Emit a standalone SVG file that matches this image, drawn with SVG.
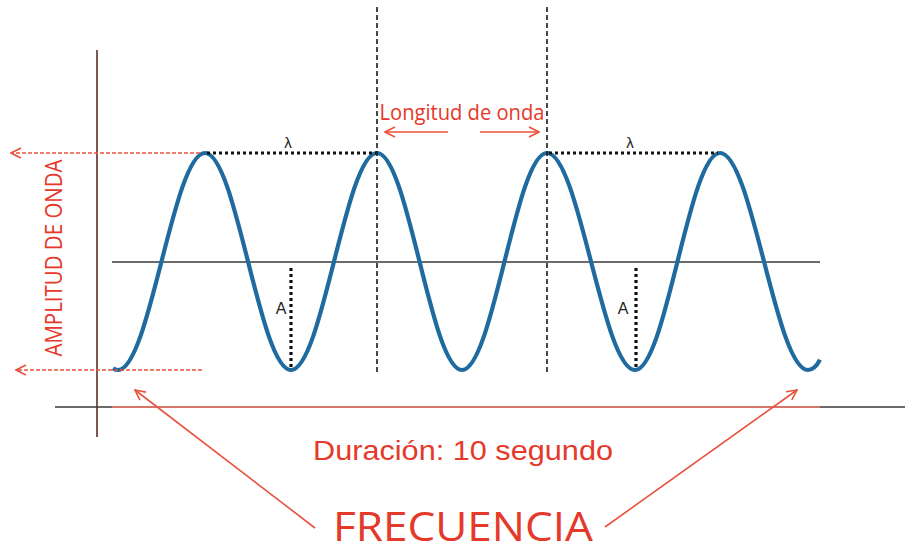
<svg xmlns="http://www.w3.org/2000/svg" width="905" height="552" viewBox="0 0 905 552">
<defs>
<style>
.red{fill:#e5392a;}
.redline{stroke:#e8523e;stroke-width:1.6;fill:none;}
.reddash{stroke:#e8523e;stroke-width:1.5;fill:none;stroke-dasharray:4,2;}
.dark{stroke:#3a3a3a;stroke-width:1.6;fill:none;}
.vdash{stroke:#1a1a1a;stroke-width:1.6;fill:none;stroke-dasharray:5,3;}
.dots{stroke:#111;stroke-width:3.2;fill:none;stroke-dasharray:3,3;}
.lbl{font-family:"Liberation Sans",Arial,sans-serif;fill:#222;}
</style>
<marker id="ah" viewBox="0 0 12 12" refX="11" refY="6" markerWidth="12" markerHeight="12" markerUnits="userSpaceOnUse" orient="auto">
<path d="M1,1 L11,6 L1,11" fill="none" stroke="#e8523e" stroke-width="1.6"/>
</marker>
</defs>
<rect width="905" height="552" fill="#ffffff"/>

<g id="axes">
<line x1="97" y1="50" x2="97" y2="437" stroke="#5b2f28" stroke-width="1.6"/>
<line class="dark" x1="55" y1="407" x2="112" y2="407"/>
<line x1="112" y1="407" x2="820" y2="407" stroke="#c9473a" stroke-width="1.4"/>
<line class="dark" x1="820" y1="407" x2="905" y2="407"/>
<line class="dark" x1="112" y1="262" x2="820" y2="262"/>
</g>

<g id="wave">
<path d="M113,368.2 Q115.5,370 118,370 C149.7,370 173.3,153 205,153 C236.3,153 259.7,370 291,370 C322.3,370 345.7,153 377,153 C408,153 431,370 462,370 C493,370 516,153 547,153 C579,153 603,370 635,370 C666,370 689,153 720,153 C752,153 776,370 808,370 Q814.6,370 820,359.8" fill="none" stroke="#1f6a9e" stroke-width="4.2"/>
</g>

<g id="guides">
<line class="vdash" x1="377" y1="7" x2="377" y2="372"/>
<line class="vdash" x1="547" y1="7" x2="547" y2="372"/>
<line class="dots" x1="207" y1="153" x2="376" y2="153"/>
<line class="dots" x1="549" y1="153" x2="718" y2="153"/>
<line class="dots" x1="291" y1="268" x2="291" y2="369"/>
<line class="dots" x1="636" y1="268" x2="636" y2="369"/>
<text class="lbl" x="288" y="148" font-size="15" text-anchor="middle">λ</text>
<text class="lbl" x="630" y="148" font-size="15" text-anchor="middle">λ</text>
<text class="lbl" x="281" y="314" font-size="16" text-anchor="middle">A</text>
<text class="lbl" x="623" y="314" font-size="16" text-anchor="middle">A</text>
</g>

<g id="amplitud">
<line class="reddash" x1="200" y1="153" x2="11" y2="153" marker-end="url(#ah)"/>
<line class="reddash" x1="202" y1="370" x2="16" y2="370" marker-end="url(#ah)"/>
<text class="red" transform="translate(62,258) rotate(-90)" font-family="'Open Sans','Liberation Sans',sans-serif" font-size="23" text-anchor="middle" textLength="197" lengthAdjust="spacingAndGlyphs">AMPLITUD DE ONDA</text>
</g>

<g id="longitud">
<text class="red" x="462" y="120" font-family="'Open Sans','Liberation Sans',sans-serif" font-size="21" text-anchor="middle" textLength="165" lengthAdjust="spacingAndGlyphs">Longitud de onda</text>
<line class="redline" x1="448" y1="132" x2="385" y2="132" marker-end="url(#ah)"/>
<line class="redline" x1="480" y1="132" x2="539" y2="132" marker-end="url(#ah)"/>
</g>

<g id="duracion">
<text class="red" x="463" y="460" font-family="'Liberation Sans',Arial,sans-serif" font-size="28" text-anchor="middle" textLength="300" lengthAdjust="spacingAndGlyphs">Duración: 10 segundo</text>
</g>

<g id="frecuencia">
<text class="red" x="463" y="541" font-family="'Open Sans','Liberation Sans',sans-serif" font-size="40" text-anchor="middle" textLength="260" lengthAdjust="spacingAndGlyphs">FRECUENCIA</text>
</g>

<g id="connectors">
<line class="redline" x1="315" y1="528" x2="135" y2="390" marker-end="url(#ah)"/>
<line class="redline" x1="605" y1="527" x2="797" y2="390" marker-end="url(#ah)"/>
</g>
</svg>
